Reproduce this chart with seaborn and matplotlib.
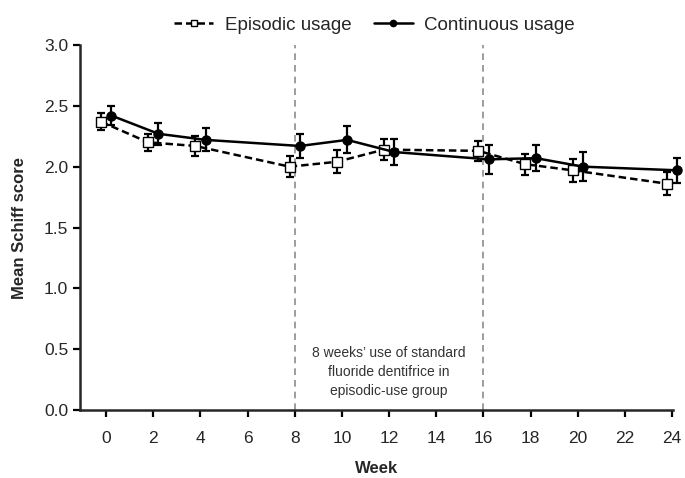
import pandas as pd
import matplotlib
matplotlib.use("Agg")
import matplotlib.pyplot as plt
import seaborn as sns

# Weeks and mean Schiff scores
weeks = [0, 2, 4, 8, 10, 12, 16, 18, 20, 24]
episodic_mean = [2.37, 2.20, 2.17, 2.00, 2.04, 2.14, 2.13, 2.02, 1.97, 1.86]
episodic_err = [0.07, 0.07, 0.085, 0.085, 0.095, 0.085, 0.08, 0.085, 0.095, 0.095]
continuous_mean = [2.42, 2.27, 2.22, 2.17, 2.22, 2.12, 2.06, 2.07, 2.00, 1.97]
continuous_err = [0.075, 0.09, 0.095, 0.095, 0.11, 0.105, 0.12, 0.105, 0.12, 0.105]
x_ticks = list(range(0, 25, 2))
y_ticks = [0.0, 0.5, 1.0, 1.5, 2.0, 2.5, 3.0]
phase_bounds = [8, 16]
note = "8 weeks\u2019 use of standard\nfluoride dentifrice in\nepisodic-use group"

sns.set_style("ticks")
plt.rcParams["font.family"] = ["Liberation Sans", "DejaVu Sans"]

offset = 0.22
df = pd.DataFrame({
    "week": [w - offset for w in weeks] + [w + offset for w in weeks],
    "score": episodic_mean + continuous_mean,
    "err": episodic_err + continuous_err,
    "group": ["Episodic usage"] * len(weeks) + ["Continuous usage"] * len(weeks),
})

fig = plt.figure(figsize=(6.85, 4.78), dpi=100)
ax = fig.add_axes([0.117, 0.142, 0.866, 0.764])

# phase boundaries
for b in phase_bounds:
    ax.axvline(b, color="#8c8c8c", linestyle=(0, (4, 3)), linewidth=1.2, zorder=1)

# error bars
for g, sub in df.groupby("group"):
    eb = ax.errorbar(sub["week"], sub["score"], yerr=sub["err"], fmt="none",
                     ecolor="black", elinewidth=1.6, capsize=3.2, capthick=1.6, zorder=2)
    for art in eb.lines[1] + eb.lines[2]:
        art.set_clip_on(False)

sns.lineplot(data=df, x="week", y="score", hue="group", style="group",
             hue_order=["Episodic usage", "Continuous usage"],
             palette=["black", "black"],
             dashes={"Episodic usage": (3, 1.6), "Continuous usage": ""},
             markers={"Episodic usage": "s", "Continuous usage": "o"},
             markersize=6.5, linewidth=1.8, markeredgecolor="black",
             markeredgewidth=1.0, ax=ax, zorder=3, clip_on=False)

# open squares for episodic group
for line in ax.lines:
    if line.get_marker() == "s":
        line.set_markerfacecolor("white")

ax.text(12, 0.31, note, ha="center", va="center", fontsize=10,
        color="#333333", linespacing=1.45)

ax.set_xlim(-1.1, 24.05)
ax.set_ylim(0, 3.0)
ax.set_xticks(x_ticks)
ax.set_yticks(y_ticks)
ax.set_yticklabels([f"{v:.1f}" for v in y_ticks])
ax.tick_params(axis="both", labelsize=12.5, width=1.6, length=5, color="black")
ax.tick_params(axis="x", pad=10)
ax.set_xlabel("Week", fontsize=12, fontweight="bold", labelpad=11)
ax.set_ylabel("Mean Schiff score", fontsize=12, fontweight="bold", labelpad=12)
for s in ["left", "bottom"]:
    ax.spines[s].set_linewidth(1.8)
sns.despine(ax=ax)

handles, labels = ax.get_legend_handles_labels()
for h in handles:
    if h.get_marker() == "s":
        h.set_markerfacecolor("white")
    h.set_markersize(4.5)
ax.legend(handles, labels, loc="lower center", bbox_to_anchor=(0.496, 1.0),
          ncol=2, frameon=False, fontsize=13.5, handlelength=2.1,
          handletextpad=0.6, columnspacing=1.2, borderaxespad=0.2)

fig.savefig("out.png", dpi=100)
